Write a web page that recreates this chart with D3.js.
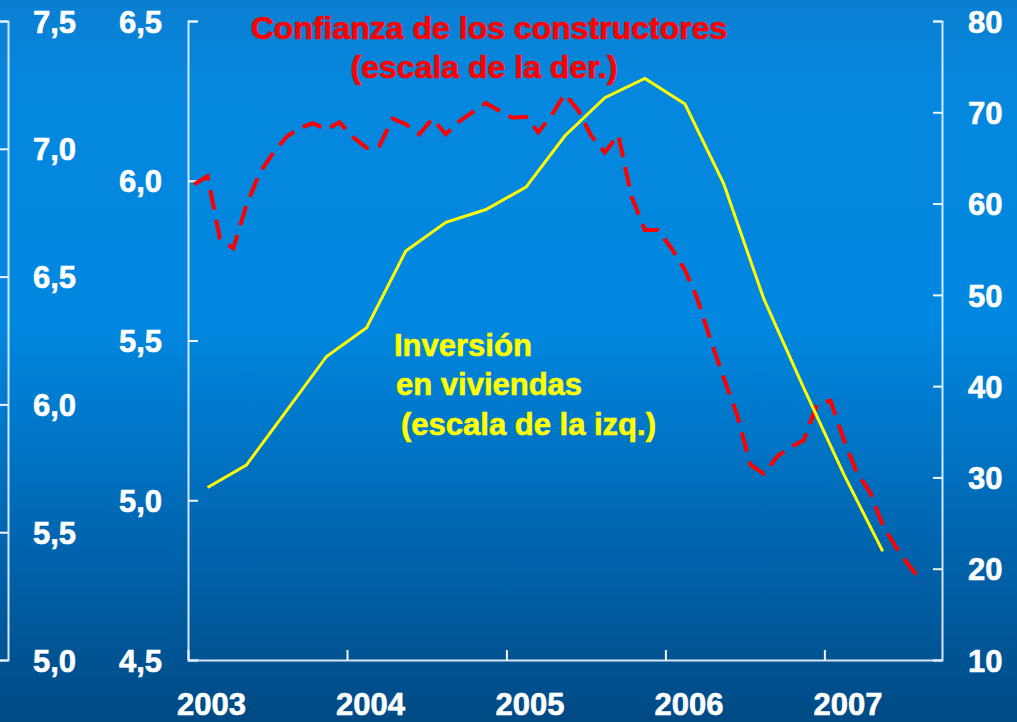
<!DOCTYPE html>
<html>
<head>
<meta charset="UTF-8">
<script src="https://d3js.org/d3.v7.min.js"></script>
<style>
  body { margin: 0; background: #004c86; }
  svg { display: block; font-family: "Liberation Sans", Arial, sans-serif; font-weight: bold; }
  .axis .domain { stroke: #d6e6f6; stroke-width: 2; }
  .axis line { stroke: #eef5fc; stroke-width: 2; }
  .axis text { fill: #ffffff; stroke: #ffffff; stroke-width: 0.6px; font-size: 31px; font-weight: bold; font-family: "Liberation Sans", Arial, sans-serif; }
</style>
</head>
<body>
<svg width="1017" height="722"></svg>
<script>

// inversión en viviendas, trimestral (escala izq.)
var quarters = ["2003Q1","2003Q2","2003Q3","2003Q4","2004Q1","2004Q2","2004Q3","2004Q4",
                "2005Q1","2005Q2","2005Q3","2005Q4","2006Q1","2006Q2","2006Q3","2006Q4",
                "2007Q1","2007Q2"];
var inversion = [5.04, 5.11, 5.28, 5.45, 5.54, 5.78, 5.87, 5.91,
                 5.98, 6.14, 6.26, 6.32, 6.24, 5.99, 5.63, 5.35,
                 5.08, 4.84];

// confianza de los constructores, mensual desde ene-2003 (escala der.)
var confianza = [62.1, 63.0, 56.2, 55.1, 59.8, 63.4, 65.5, 67.3, 68.3, 68.8, 68.1, 68.9,
                 67.3, 66.1, 66.3, 69.3, 68.7, 67.6, 69.3, 67.6, 69.0, 70.0, 71.0, 70.2,
                 69.4, 69.5, 67.8, 69.7, 72.0, 70.2, 67.4, 65.6, 67.5, 60.8, 57.1, 57.1,
                 55.1, 52.7, 49.6, 45.0, 40.9, 36.8, 31.4, 30.4, 32.3, 33.3, 34.1, 38.0,
                 38.4, 34.1, 30.7, 28.4, 24.8, 22.3, 20.3, 18.5];

var years = [2003, 2004, 2005, 2006, 2007];
var leftTicks = [4.5, 5.0, 5.5, 6.0, 6.5];
var outerTicks = [5.0, 5.5, 6.0, 6.5, 7.0, 7.5];
var rightTicks = [10, 20, 30, 40, 50, 60, 70, 80];

var svg = d3.select("svg"),
    width = +svg.attr("width"),
    height = +svg.attr("height"),
    plot = {left: 188, right: 942, top: 21, bottom: 660};

// fondo degradado
var grad = svg.append("defs").append("linearGradient")
    .attr("id", "bg").attr("x1", 0).attr("y1", 0).attr("x2", 0).attr("y2", 1);
[["0%", "#0a7fd2"], ["12%", "#0587de"], ["45%", "#0087e0"], ["72%", "#0068b4"], ["100%", "#004a84"]]
  .forEach(function(s) { grad.append("stop").attr("offset", s[0]).attr("stop-color", s[1]); });
svg.append("rect").attr("width", width).attr("height", height).attr("fill", "url(#bg)");

var x = d3.scaleTime()
    .domain([new Date(2003, 0, 1), new Date(2007, 8, 28)])
    .range([plot.left, plot.right]);
var yLeft = d3.scaleLinear().domain([4.5, 6.5]).range([plot.bottom, plot.top]);
var yOuter = d3.scaleLinear().domain([5.0, 7.5]).range([plot.bottom, plot.top]);
var yRight = d3.scaleLinear().domain([10, 80]).range([plot.bottom, plot.top]);

var comma = function(d) { return d3.format(".1f")(d).replace(".", ","); };

function quarterDate(q) {
  var yr = +q.slice(0, 4), k = +q.slice(5);
  return new Date(yr, (k - 1) * 3 + 1, 15);
}

// eje exterior (otro gráfico)
svg.append("g")
    .attr("class", "axis")
    .attr("transform", "translate(8,0)")
    .call(d3.axisLeft(yOuter).tickValues(outerTicks).tickFormat(comma).tickSizeInner(8).tickSizeOuter(8))
  .selectAll("text")
    .attr("x", 68).attr("text-anchor", "end").attr("dy", "0.36em");

// eje izquierdo
svg.append("g")
    .attr("class", "axis")
    .attr("transform", "translate(" + plot.left + ",0)")
    .call(d3.axisLeft(yLeft).tickValues(leftTicks).tickFormat(comma).tickSizeInner(-10).tickSizeOuter(-10))
  .selectAll("text")
    .attr("x", -26).attr("text-anchor", "end").attr("dy", "0.36em");

// eje derecho
svg.append("g")
    .attr("class", "axis")
    .attr("transform", "translate(" + plot.right + ",0)")
    .call(d3.axisRight(yRight).tickValues(rightTicks).tickSizeInner(-9).tickSizeOuter(-9))
  .selectAll("text")
    .attr("x", 26).attr("text-anchor", "start").attr("dy", "0.36em");

// eje inferior
var xAxis = svg.append("g")
    .attr("class", "axis")
    .attr("transform", "translate(0," + plot.bottom + ")")
    .call(d3.axisBottom(x)
      .tickValues(years.map(function(y) { return new Date(y, 0, 1); }))
      .tickFormat(d3.timeFormat("%Y"))
      .tickSizeInner(-10).tickSizeOuter(0));
xAxis.selectAll("text")
    .attr("y", 55).attr("dy", 0).attr("dx", 23);

// series
var lineInv = d3.line()
    .x(function(d, i) { return x(quarterDate(quarters[i])); })
    .y(function(d) { return yLeft(d); });

var lineConf = d3.line()
    .x(function(d, i) { return x(new Date(2003, i, 15)); })
    .y(function(d) { return yRight(d); });

svg.append("path")
    .datum(confianza)
    .attr("fill", "none")
    .attr("stroke", "#ff0000")
    .attr("stroke-width", 4)
    .attr("stroke-dasharray", "20,10")
    .attr("d", lineConf);

svg.append("path")
    .datum(inversion)
    .attr("fill", "none")
    .attr("stroke", "#ffff00")
    .attr("stroke-width", 3)
    .attr("d", lineInv);

// rótulos
var red = svg.append("g")
    .attr("fill", "#ff0000")
    .attr("stroke", "#ff0000")
    .attr("stroke-width", 0.6)
    .attr("font-size", "32px")
    .attr("text-anchor", "middle");
red.append("text").attr("x", 489).attr("y", 39).text("Confianza de los constructores");
red.append("text").attr("x", 484).attr("y", 78).text("(escala de la der.)");

var yel = svg.append("g")
    .attr("fill", "#ffff00")
    .attr("stroke", "#ffff00")
    .attr("stroke-width", 0.6)
    .attr("font-size", "31px");
yel.append("text").attr("x", 394).attr("y", 356).text("Inversión");
yel.append("text").attr("x", 396).attr("y", 395).text("en viviendas");
yel.append("text").attr("x", 401).attr("y", 435).text("(escala de la izq.)");

</script>
</body>
</html>
